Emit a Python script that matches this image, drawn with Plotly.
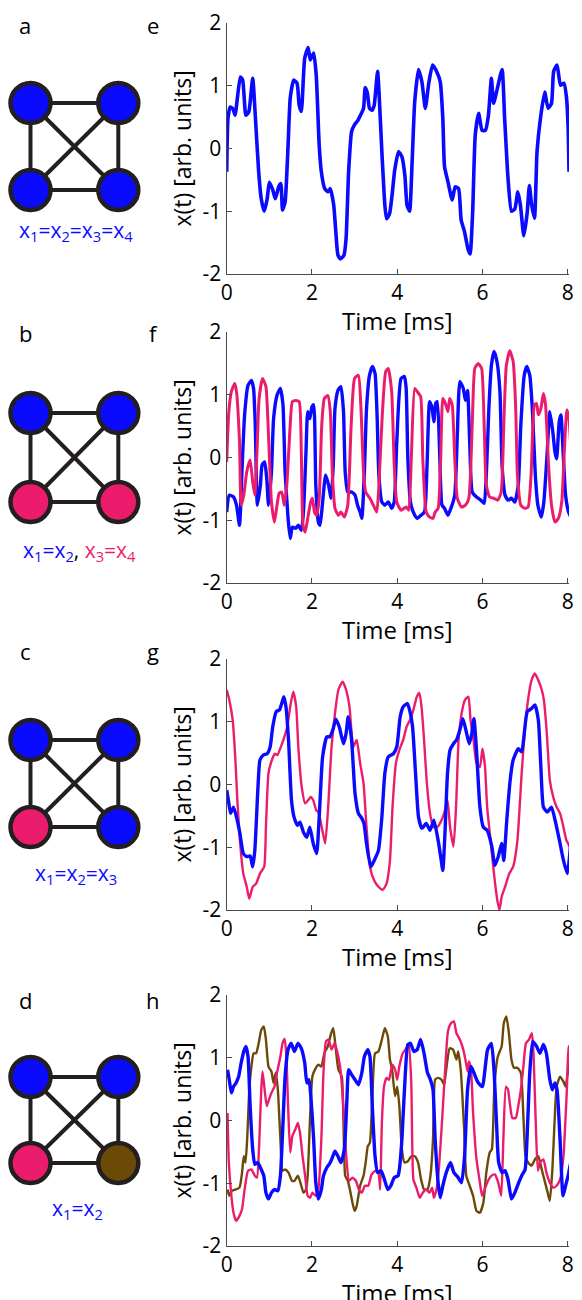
import plotly.graph_objects as go

# ---------------- data ----------------
# panel e : all four nodes synchronised (blue)
e_t = [0, 0.03, 0.08, 0.14, 0.20, 0.24, 0.32, 0.375, 0.45, 0.52, 0.61, 0.67, 0.75, 0.81, 0.88, 0.95, 1.0, 1.08, 1.14, 1.22,
       1.27, 1.31, 1.37, 1.44, 1.49, 1.57, 1.65, 1.70, 1.75, 1.83, 1.91, 1.96, 2.04, 2.10, 2.17, 2.22, 2.30, 2.38, 2.43, 2.51,
       2.56, 2.61, 2.67, 2.75, 2.80, 2.86, 2.93, 3.00, 3.08, 3.16, 3.21, 3.25, 3.30, 3.35, 3.41, 3.46, 3.54, 3.58, 3.64, 3.71,
       3.75, 3.82, 3.88, 3.94, 4.03, 4.11, 4.18, 4.23, 4.29, 4.35, 4.41, 4.50, 4.58, 4.66, 4.74, 4.83, 4.93, 5.01, 5.07, 5.11,
       5.19, 5.29, 5.36, 5.44, 5.50, 5.58, 5.66, 5.71, 5.77, 5.83, 5.91, 5.99, 6.07, 6.14, 6.21, 6.26, 6.34, 6.46, 6.52, 6.60,
       6.68, 6.76, 6.83, 6.89, 6.97, 7.05, 7.10, 7.15, 7.22, 7.28, 7.36, 7.46, 7.54, 7.62, 7.67, 7.75, 7.83, 7.91, 7.97, 8.01, 8.03]
e_blue = [-0.37, 0.48, 0.66, 0.64, 0.53, 0.74, 1.14, 1.09, 0.53, 0.59, 1.12, 0.53, -0.37, -0.80, -1.0, -0.80, -0.54, -0.66, -0.80, -0.61,
          -0.56, -0.98, -0.85, 0.05, 0.80, 1.09, 1.04, 0.69, 0.59, 1.44, 1.61, 1.41, 1.52, 1.17, 0.05, -0.37, -0.64, -0.69, -0.64, -0.90,
          -1.33, -1.70, -1.76, -1.70, -1.44, -0.37, 0.27, 0.38, 0.45, 0.56, 0.64, 0.97, 0.88, 0.64, 0.61, 0.69, 1.23, 0.80, -0.05, -0.90,
          -1.12, -1.04, -0.74, -0.35, -0.05, -0.13, -0.43, -0.90, -1.0, -0.21, 0.74, 1.26, 1.06, 0.64, 1.04, 1.33, 1.22, 1.06, 0.48, -0.29,
          -0.53, -0.82, -0.61, -0.64, -1.14, -1.33, -1.60, -1.68, -1.01, 0.21, 0.56, 0.29, 0.29, 0.53, 1.12, 0.72, 0.93, 1.26, 0.48, -0.48,
          -1.0, -0.96, -0.69, -0.90, -1.39, -1.02, -0.59, -0.88, -1.11, -0.05, 0.48, 0.90, 0.64, 0.72, 1.23, 1.33, 1.01, 1.04, 0.82, 0.32, -0.37]

# panel f : x1=x2 (blue), x3=x4 (pink)
f_t_blue = [0, 0.06, 0.16, 0.23, 0.30, 0.36, 0.42, 0.50, 0.58, 0.63, 0.67, 0.72, 0.79, 0.83, 0.89, 0.94, 0.98, 1.05, 1.10, 1.18,
            1.26, 1.32, 1.37, 1.44, 1.49, 1.54, 1.62, 1.68, 1.75, 1.80, 1.86, 1.90, 1.95, 2.0, 2.04, 2.09, 2.15, 2.19, 2.25, 2.32,
            2.39, 2.45, 2.50, 2.54, 2.61, 2.68, 2.74, 2.78, 2.84, 2.93, 3.01, 3.07, 3.13, 3.17, 3.23, 3.28, 3.35, 3.42, 3.48, 3.53,
            3.57, 3.64, 3.71, 3.79, 3.87, 3.93, 3.99, 4.09, 4.17, 4.21, 4.25, 4.31, 4.39, 4.47, 4.56, 4.64, 4.70, 4.76, 4.82, 4.86,
            4.90, 4.94, 5.0, 5.05, 5.11, 5.19, 5.27, 5.35, 5.41, 5.47, 5.55, 5.60, 5.65, 5.70, 5.76, 5.86, 5.96, 6.04, 6.09, 6.15,
            6.21, 6.27, 6.34, 6.41, 6.46, 6.53, 6.60, 6.68, 6.76, 6.84, 6.90, 6.98, 7.04, 7.11, 7.17, 7.24, 7.30, 7.38, 7.44, 7.51,
            7.58, 7.65, 7.70, 7.74, 7.80, 7.84, 7.90, 7.95, 8.02, 8.09, 8.15]
f_blue = [-0.87, -0.60, -0.63, -0.76, -1.08, -0.18, 0.68, 1.15, 1.23, 1.10, 0.52, -0.76, -0.44, -0.12, -0.07, -0.34, -0.76, -0.23, 0.62, 0.99,
          1.10, 0.84, -0.23, -0.97, -1.29, -1.11, -1.13, -1.08, -1.16, -0.87, 0.09, 0.73, 0.62, 0.81, 0.84, -0.44, -1.03, -1.08, -0.71, -0.28,
          -0.44, -0.65, -0.12, 0.78, 1.07, 1.13, 0.73, -0.23, -0.55, -0.55, -0.60, -0.76, -0.87, -0.97, -0.23, 0.78, 1.31, 1.45, 1.34, 0.62,
          -0.28, -0.71, -0.76, -0.71, -0.81, -0.71, 0.25, 1.26, 1.29, 1.10, -0.02, -0.71, -0.89, -0.97, -0.92, -0.87, -0.12, 0.89, 0.78, 0.57,
          0.86, 0.89, -0.02, -0.76, -0.81, -0.92, -0.79, -0.60, 0.36, 1.21, 1.10, 0.91, 1.07, 0.25, -0.55, -0.63, -0.68, -0.73, -0.28, 0.78,
          1.47, 1.69, 1.53, 1.05, -0.12, -0.60, -0.68, -0.65, -0.71, -0.44, 0.52, 1.31, 1.45, 1.31, 0.78, -0.28, -0.76, -0.95, -0.71, -0.02,
          0.73, 0.41, 0.09, -0.02, 0.57, 0.68, -0.02, -0.60, -0.87, -0.97, -1.03]
f_t_pink = [0, 0.05, 0.11, 0.19, 0.23, 0.30, 0.34, 0.40, 0.47, 0.55, 0.61, 0.66, 0.71, 0.76, 0.84, 0.92, 0.98, 1.05, 1.12, 1.18,
            1.23, 1.29, 1.35, 1.41, 1.49, 1.54, 1.62, 1.70, 1.75, 1.79, 1.84, 1.90, 1.97, 2.01, 2.06, 2.11, 2.17, 2.23, 2.29, 2.37,
            2.43, 2.48, 2.54, 2.62, 2.68, 2.76, 2.84, 2.92, 3.0, 3.09, 3.15, 3.21, 3.26, 3.36, 3.44, 3.52, 3.57, 3.65, 3.73, 3.79,
            3.87, 3.93, 3.99, 4.09, 4.21, 4.27, 4.33, 4.41, 4.47, 4.55, 4.60, 4.68, 4.76, 4.84, 4.89, 4.96, 5.02, 5.07, 5.13, 5.19,
            5.23, 5.29, 5.35, 5.41, 5.51, 5.60, 5.68, 5.76, 5.82, 5.90, 5.98, 6.04, 6.09, 6.17, 6.27, 6.36, 6.44, 6.50, 6.56, 6.64,
            6.72, 6.78, 6.82, 6.90, 6.99, 7.07, 7.14, 7.22, 7.27, 7.31, 7.37, 7.43, 7.48, 7.55, 7.62, 7.70, 7.78, 7.86, 7.92, 7.98,
            8.03, 8.09, 8.13]
f_pink = [-0.07, 0.73, 1.05, 1.18, 1.05, 0.25, -0.76, -0.60, -0.23, -0.04, -0.39, -0.60, 0.09, 0.94, 1.26, 1.13, 0.36, -0.71, -1.03, -0.76,
          -0.57, -0.55, -0.76, -0.44, 0.52, 0.89, 0.91, 0.89, 0.09, -1.08, -1.19, -0.97, -0.71, -0.65, -0.87, -0.92, -0.65, 0.52, 0.94, 0.99,
          0.73, -0.28, -0.81, -0.92, -0.87, -0.95, -0.76, 0.52, 1.26, 1.31, 0.78, -0.23, -0.55, -0.65, -0.76, -0.87, -0.44, 0.68, 1.37, 1.42,
          1.05, -0.12, -0.71, -0.84, -0.79, -0.84, -0.02, 1.10, 1.05, 0.97, -0.02, -0.87, -0.95, -0.97, -0.87, -0.81, -0.02, 0.94, 0.86, 0.73,
          0.94, 0.84, -0.02, -0.65, -0.79, -0.76, -0.65, 0.52, 1.42, 1.50, 1.42, 0.52, -0.44, -0.63, -0.65, -0.68, -0.55, 0.52, 1.47, 1.70,
          1.53, 0.78, -0.28, -0.76, -0.81, -0.79, -0.28, 0.84, 0.86, 0.68, 0.78, 1.02, 0.84, -0.12, -0.76, -1.03, -0.97, -0.71, 0.09, 0.76,
          0.62, -0.02, -0.15]

# panel g : x1=x2=x3 (blue), x4 (pink)
g_t_blue = [0, 0.04, 0.09, 0.16, 0.23, 0.31, 0.39, 0.47, 0.55, 0.61, 0.66, 0.73, 0.78, 0.86, 0.95, 1.02, 1.08, 1.16, 1.24, 1.29,
            1.34, 1.39, 1.45, 1.52, 1.58, 1.66, 1.72, 1.80, 1.88, 1.95, 2.03, 2.11, 2.17, 2.25, 2.35, 2.42, 2.49, 2.56, 2.64, 2.74,
            2.80, 2.85, 2.93, 3.01, 3.09, 3.17, 3.22, 3.28, 3.38, 3.46, 3.56, 3.64, 3.71, 3.79, 3.91, 3.99, 4.07, 4.14, 4.24, 4.30,
            4.36, 4.43, 4.50, 4.58, 4.68, 4.77, 4.86, 4.96, 5.02, 5.07, 5.12, 5.18, 5.24, 5.32, 5.39, 5.47, 5.54, 5.61, 5.69, 5.75,
            5.80, 5.86, 5.94, 6.02, 6.11, 6.22, 6.29, 6.37, 6.45, 6.50, 6.57, 6.65, 6.72, 6.84, 6.92, 6.98, 7.05, 7.15, 7.23, 7.31,
            7.37, 7.43, 7.52, 7.62, 7.72, 7.82, 7.90, 7.99, 8.05, 8.12]
g_blue = [-0.09, -0.25, -0.46, -0.36, -0.52, -0.78, -1.10, -1.15, -1.14, -1.31, -1.05, -0.09, 0.39, 0.47, 0.49, 0.60, 0.92, 1.16, 1.19, 1.29,
          1.40, 1.24, 0.71, -0.25, -0.52, -0.65, -0.60, -0.76, -0.84, -0.68, -0.94, -1.10, -0.52, 0.44, 0.76, 0.76, 0.87, 1.04, 0.92, 0.65,
          0.81, 1.08, 0.71, -0.14, -0.46, -0.54, -0.62, -0.94, -1.31, -1.21, -1.05, -0.52, 0.18, 0.44, 0.49, 0.60, 1.08, 1.24, 1.29, 1.16,
          0.92, 0.18, -0.52, -0.70, -0.62, -0.73, -0.57, -0.89, -1.15, -1.37, -0.78, 0.18, 0.55, 0.65, 0.71, 0.87, 1.05, 0.87, 0.65, 0.81,
          1.05, 0.55, -0.36, -0.68, -0.73, -0.99, -1.29, -1.15, -0.94, -1.21, -0.57, 0.07, 0.39, 0.57, 0.52, 0.81, 1.16, 1.21, 1.27, 1.03,
          0.28, -0.36, -0.44, -0.36, -0.62, -0.94, -1.21, -1.42, -1.10, -0.30]
g_t_pink = [0, 0.06, 0.14, 0.20, 0.25, 0.31, 0.39, 0.47, 0.53, 0.61, 0.69, 0.78, 0.88, 0.92, 0.98, 1.06, 1.13, 1.19, 1.27, 1.34,
            1.42, 1.49, 1.56, 1.63, 1.68, 1.76, 1.84, 1.91, 1.97, 2.03, 2.10, 2.15, 2.23, 2.31, 2.38, 2.46, 2.54, 2.62, 2.72, 2.80,
            2.88, 2.97, 3.05, 3.13, 3.21, 3.28, 3.36, 3.46, 3.56, 3.66, 3.75, 3.83, 3.89, 3.97, 4.05, 4.14, 4.22, 4.30, 4.38, 4.46,
            4.52, 4.57, 4.63, 4.69, 4.77, 4.85, 4.94, 5.04, 5.12, 5.18, 5.24, 5.32, 5.38, 5.44, 5.51, 5.59, 5.67, 5.72, 5.79, 5.86,
            5.94, 6.00, 6.06, 6.11, 6.19, 6.27, 6.35, 6.40, 6.45, 6.53, 6.63, 6.72, 6.82, 6.92, 7.00, 7.08, 7.15, 7.23, 7.31, 7.39,
            7.44, 7.51, 7.58, 7.66, 7.74, 7.82, 7.90, 7.97, 8.05]
g_pink = [1.51, 1.35, 1.03, 0.44, -0.25, -0.89, -1.42, -1.63, -1.82, -1.63, -1.58, -1.42, -1.31, -0.68, 0.18, 0.39, 0.49, 0.47, 0.60, 0.73,
          0.92, 1.24, 1.48, 1.24, 0.60, -0.04, -0.30, -0.25, -0.20, -0.25, -0.41, -0.44, -0.68, -0.94, -0.36, 0.60, 1.13, 1.51, 1.64, 1.51,
          1.24, 0.60, 0.71, 0.34, 0.02, -0.68, -1.31, -1.53, -1.63, -1.68, -1.58, -1.21, -0.36, 0.34, 0.55, 0.71, 0.92, 1.03, 1.19, 1.40,
          1.46, 1.24, 0.71, 0.07, -0.46, -0.68, -0.68, -0.57, -0.41, -0.25, -0.68, -0.99, -0.36, 0.71, 1.13, 1.35, 1.40, 1.03, 0.71, 0.34,
          0.28, 0.57, 0.28, -0.36, -0.89, -1.42, -1.85, -2.0, -1.79, -1.63, -1.42, -1.31, -0.89, 0.18, 0.92, 1.40, 1.66, 1.77, 1.66, 1.51,
          1.35, 0.81, 0.07, -0.20, -0.36, -0.46, -0.68, -0.89, -0.99]

# panel h : x1=x2 (blue), x3 (pink), x4 (brown)
h_t_blue = [0.02, 0.06, 0.11, 0.16, 0.22, 0.28, 0.34, 0.40, 0.45, 0.50, 0.55, 0.61, 0.66, 0.73, 0.81, 0.87, 0.92, 0.98, 1.05, 1.12,
            1.20, 1.26, 1.31, 1.37, 1.44, 1.51, 1.59, 1.67, 1.75, 1.83, 1.88, 1.93, 1.98, 2.04, 2.09, 2.15, 2.22, 2.27, 2.35, 2.43,
            2.49, 2.54, 2.61, 2.68, 2.76, 2.82, 2.86, 2.93, 3.01, 3.09, 3.17, 3.23, 3.31, 3.36, 3.42, 3.48, 3.54, 3.62, 3.70, 3.78,
            3.85, 3.93, 4.02, 4.05, 4.11, 4.17, 4.25, 4.31, 4.39, 4.47, 4.55, 4.63, 4.71, 4.78, 4.84, 4.89, 4.96, 5.01, 5.07, 5.15,
            5.25, 5.33, 5.43, 5.51, 5.58, 5.65, 5.73, 5.80, 5.90, 6.0, 6.05, 6.12, 6.21, 6.27, 6.33, 6.38, 6.46, 6.53, 6.60, 6.68,
            6.76, 6.85, 6.92, 7.00, 7.06, 7.11, 7.18, 7.27, 7.35, 7.43, 7.50, 7.58, 7.64, 7.70, 7.75, 7.82, 7.89, 7.95, 8.01, 8.09, 8.15]
h_blue = [0.81, 0.65, 0.44, 0.54, 0.60, 0.70, 0.92, 1.10, 1.18, 1.02, 0.23, -0.46, -0.70, -0.67, -0.78, -0.88, -1.15, -1.25, -1.15, -1.10,
          -1.12, -0.88, -0.20, 0.70, 1.13, 1.23, 1.10, 1.23, 1.15, 0.92, 0.60, 0.65, 0.33, -0.30, -0.99, -1.25, -1.10, -0.88, -0.75, -0.67,
          -0.57, -0.49, -0.57, -0.67, -0.46, 0.33, 0.81, 0.73, 0.65, 0.57, 0.76, 1.02, 1.13, 1.02, 0.17, -0.57, -0.83, -0.80, -0.94, -1.10,
          -1.04, -0.91, -0.88, -0.78, -0.30, 0.49, 1.21, 1.23, 1.10, 1.13, 1.29, 1.07, 0.76, 0.65, 0.49, -0.30, -0.99, -1.23, -1.04, -0.83,
          -0.67, -0.83, -0.91, -0.99, -0.57, 0.49, 0.86, 0.76, 0.60, 0.54, 0.76, 1.13, 1.23, 0.81, -0.04, -0.67, -0.83, -0.80, -0.94, -1.25,
          -1.15, -0.99, -0.88, -0.78, -0.04, 0.76, 1.26, 1.18, 1.07, 1.21, 1.07, 0.65, 0.49, 0.60, 0.49, -0.30, -1.20, -1.04, -0.88, -0.62, -0.67]
h_t_pink = [0.02, 0.05, 0.11, 0.16, 0.22, 0.30, 0.36, 0.42, 0.50, 0.58, 0.66, 0.71, 0.76, 0.81, 0.84, 0.89, 0.94, 0.99, 1.05, 1.12,
            1.18, 1.26, 1.31, 1.36, 1.40, 1.44, 1.49, 1.54, 1.61, 1.67, 1.72, 1.78, 1.84, 1.90, 1.96, 2.01, 2.09, 2.15, 2.22, 2.27,
            2.33, 2.39, 2.46, 2.53, 2.58, 2.66, 2.71, 2.76, 2.81, 2.87, 2.95, 3.03, 3.10, 3.17, 3.24, 3.32, 3.40, 3.49, 3.56, 3.60,
            3.64, 3.69, 3.75, 3.81, 3.88, 3.95, 4.0, 4.05, 4.13, 4.21, 4.27, 4.33, 4.38, 4.45, 4.53, 4.60, 4.68, 4.76, 4.82, 4.86,
            4.92, 4.97, 5.04, 5.11, 5.19, 5.26, 5.33, 5.39, 5.47, 5.55, 5.60, 5.65, 5.68, 5.73, 5.78, 5.86, 5.94, 5.99, 6.05, 6.13,
            6.21, 6.29, 6.37, 6.44, 6.49, 6.55, 6.60, 6.64, 6.70, 6.78, 6.84, 6.90, 6.96, 7.02, 7.09, 7.16, 7.20, 7.25, 7.30, 7.35,
            7.43, 7.50, 7.58, 7.66, 7.74, 7.82, 7.90, 7.98, 8.03, 8.09, 8.15]
h_pink = [0.12, -0.67, -1.20, -1.47, -1.60, -1.52, -1.41, -1.10, -0.80, -0.78, -0.88, -0.91, -0.41, 0.49, 0.78, 0.49, 0.23, 0.33, 0.44, 0.54,
          0.76, 1.02, 1.23, 1.30, 1.02, 0.23, -0.51, -0.25, -0.14, -0.04, -0.20, -0.57, -0.88, -1.20, -1.23, -1.15, -1.20, -1.10, -0.30, 0.76,
          1.26, 1.29, 1.13, 1.23, 1.13, 0.86, 0.49, -0.04, -0.62, -0.96, -0.91, -0.96, -1.10, -1.15, -1.04, -1.04, -0.86, -0.80, -0.83, -1.10,
          -0.04, 0.54, 0.68, 0.65, 0.89, 0.81, 0.65, 0.86, 1.07, 1.15, 1.21, 0.60, -0.94, -1.07, -1.23, -1.15, -1.10, -1.15, -1.07, -1.23,
          -1.10, -0.83, -0.14, 0.65, 1.42, 1.55, 1.58, 1.39, 1.29, 1.13, 0.97, 0.78, 0.94, 0.81, 0.12, -0.62, -0.99, -1.20, -1.10, -0.96,
          -0.88, -0.86, -0.99, -1.20, -0.30, 0.54, 0.49, 0.28, 0.04, 0.04, 0.23, 0.49, 0.86, 1.23, 1.29, 1.39, 1.02, -0.04, -0.80, -0.67,
          -0.62, -0.83, -0.99, -1.07, -1.04, -0.94, -0.57, 0.49, 1.18, 1.21, 1.18]
h_t_brown = [0.02, 0.06, 0.12, 0.20, 0.30, 0.36, 0.40, 0.44, 0.48, 0.53, 0.58, 0.63, 0.69, 0.75, 0.81, 0.87, 0.92, 0.98, 1.05, 1.10,
             1.15, 1.20, 1.26, 1.31, 1.37, 1.45, 1.53, 1.59, 1.67, 1.75, 1.80, 1.86, 1.90, 1.96, 2.01, 2.07, 2.15, 2.22, 2.29, 2.37,
             2.45, 2.50, 2.56, 2.62, 2.70, 2.74, 2.78, 2.84, 2.89, 2.95, 3.00, 3.05, 3.13, 3.21, 3.26, 3.31, 3.36, 3.42, 3.48, 3.56,
             3.64, 3.71, 3.78, 3.83, 3.88, 3.95, 4.0, 4.05, 4.11, 4.17, 4.25, 4.33, 4.41, 4.49, 4.56, 4.63, 4.71, 4.78, 4.84, 4.89,
             4.96, 5.04, 5.10, 5.15, 5.23, 5.31, 5.39, 5.43, 5.49, 5.57, 5.62, 5.70, 5.78, 5.86, 5.94, 6.02, 6.09, 6.17, 6.22, 6.28,
             6.36, 6.45, 6.50, 6.56, 6.62, 6.68, 6.74, 6.82, 6.90, 6.96, 7.01, 7.07, 7.15, 7.23, 7.31, 7.39, 7.47, 7.53, 7.58, 7.64,
             7.69, 7.74, 7.82, 7.90, 7.95, 8.01, 8.09]
h_brown = [-1.10, -1.20, -1.12, -1.10, -1.07, -0.83, -0.57, -0.67, -0.30, 0.49, 0.86, 1.07, 1.07, 1.23, 1.44, 1.50, 1.29, 0.86, 0.78, 0.60,
           0.76, 0.49, -0.30, -0.80, -0.78, -0.83, -0.96, -0.96, -0.88, -1.04, -1.15, -1.10, -0.88, 0.12, 0.70, 0.81, 0.89, 0.86, 1.07, 1.18,
           1.39, 1.47, 1.13, 0.81, 0.70, -0.04, -0.88, -0.96, -1.10, -1.31, -1.44, -1.36, -1.04, -0.88, -0.67, -0.41, -0.35, 0.44, 1.07, 1.10,
           1.29, 1.47, 1.34, 0.97, 0.81, 0.39, 0.54, 0.23, -0.46, -0.67, -0.65, -0.57, -0.57, -0.67, -0.94, -1.10, -1.10, -0.88, -0.30, 0.65,
           0.68, 0.65, 0.57, 0.81, 1.15, 1.13, 0.97, 1.10, 0.81, -0.14, -0.88, -1.04, -1.20, -1.44, -1.47, -1.31, -0.83, -0.51, -0.46, 0.54,
           1.02, 1.18, 1.55, 1.66, 1.39, 0.97, 0.84, 0.84, 0.76, 0.07, -0.57, -0.67, -0.72, -0.62, -0.57, -0.78, -0.99, -1.15, -1.28, -0.78,
           -0.04, 0.54, 0.70, 0.62, 0.54, 0.81, 1.05]

x_ticks = [0, 2, 4, 6, 8]
x_tick_labels = ["0", "2", "4", "6", "8"]
y_ticks = [-2, -1, 0, 1, 2]
y_tick_labels = ["-2", "-1", "0", "1", "2"]

# network diagrams: 4 nodes on a square, complete graph
node_x = [0, 1, 0, 1]
node_y = [1, 1, 0, 0]
edges = [(0, 1), (2, 3), (0, 2), (1, 3), (0, 3), (1, 2)]

BLUE = "#0a0aff"
PINK = "#ec1c6c"
BROWN = "#6b4a08"
DARK = "#231f20"

node_colors = [
    [BLUE, BLUE, BLUE, BLUE],
    [BLUE, BLUE, PINK, PINK],
    [BLUE, BLUE, PINK, BLUE],
    [BLUE, BLUE, PINK, BROWN],
]
net_labels = [
    f"<span style='color:{BLUE}'>x<sub>1</sub>=x<sub>2</sub>=x<sub>3</sub>=x<sub>4</sub></span>",
    f"<span style='color:{BLUE}'>x<sub>1</sub>=x<sub>2</sub></span>, <span style='color:{PINK}'>x<sub>3</sub>=x<sub>4</sub></span>",
    f"<span style='color:{BLUE}'>x<sub>1</sub>=x<sub>2</sub>=x<sub>3</sub></span>",
    f"<span style='color:{BLUE}'>x<sub>1</sub>=x<sub>2</sub></span>",
]
left_letters = ["a", "b", "c", "d"]
right_letters = ["e", "f", "g", "h"]

# ---------------- layout geometry (pixels) ----------------
W, H = 582, 1300
def xd(px):
    return px / W
def yd(py):
    return 1 - py / H

plot_tops = [23, 332, 659, 995]
plot_h = 251
plot_left, plot_right = 226.7, 569.0
x_range = [0, 8.03]

net_top_rows = [103, 413, 740, 1077]
net_bot_rows = [190, 502, 827, 1163]
net_left_col, net_right_col = 30.5, 118.3
net_label_y = [231, 551, 874, 1209]
net_label_x = [76, 79, 76, 77]
letter_y = [25, 333, 651, 1000]

FONT = "Open Sans"

fig = go.Figure()

series = [
    [(e_t, e_blue, BLUE, 3.6)],
    [(f_t_blue, f_blue, BLUE, 3.4), (f_t_pink, f_pink, PINK, 3.0)],
    [(g_t_pink, g_pink, PINK, 2.4), (g_t_blue, g_blue, BLUE, 3.4)],
    [(h_t_brown, h_brown, BROWN, 2.4), (h_t_pink, h_pink, PINK, 2.4), (h_t_blue, h_blue, BLUE, 3.4)],
]

annotations = []
for i in range(4):
    xa = "x" if i == 0 else f"x{i+1}"
    ya = "y" if i == 0 else f"y{i+1}"
    for (t, v, c, w) in series[i]:
        fig.add_trace(go.Scatter(x=t, y=v, mode="lines",
                                 line=dict(color=c, width=w, shape="spline", smoothing=0.5),
                                 xaxis=xa, yaxis=ya, showlegend=False, hoverinfo="skip"))
    top = plot_tops[i]
    bot = top + plot_h
    axis_common = dict(showline=True, linecolor="#4a4a4a", linewidth=1.3, ticks="inside", ticklen=5,
                       tickcolor="#4a4a4a", tickwidth=1.2, showgrid=False, zeroline=False, automargin=False,
                       tickfont=dict(family=FONT, size=21, color="black"))
    fig.layout[f"xaxis{'' if i == 0 else i+1}"] = dict(
        domain=[xd(plot_left), xd(plot_right)], range=x_range, anchor=ya,
        tickvals=x_ticks, ticktext=x_tick_labels, **axis_common)
    fig.layout[f"yaxis{'' if i == 0 else i+1}"] = dict(
        domain=[yd(bot), yd(top)], range=[-2, 2], anchor=xa,
        tickvals=y_ticks, ticktext=y_tick_labels, **axis_common)
    # axis titles
    annotations.append(dict(text="x(t) [arb. units]", textangle=-90, x=xd(181), y=yd((top + bot) / 2),
                            xref="paper", yref="paper", xanchor="center", yanchor="middle", showarrow=False,
                            font=dict(family=FONT, size=23, color="black")))
    annotations.append(dict(text="Time [ms]", x=xd(397), y=yd(bot + 46.5),
                            xref="paper", yref="paper", xanchor="center", yanchor="middle", showarrow=False,
                            font=dict(family=FONT, size=24, color="black")))
    # panel letters
    annotations.append(dict(text=left_letters[i], x=xd(25), y=yd(letter_y[i]), xref="paper", yref="paper",
                            xanchor="center", yanchor="middle", showarrow=False,
                            font=dict(family=FONT, size=22, color="black")))
    annotations.append(dict(text=right_letters[i], x=xd(153), y=yd(letter_y[i]), xref="paper", yref="paper",
                            xanchor="center", yanchor="middle", showarrow=False,
                            font=dict(family=FONT, size=22, color="black")))
    # network label
    annotations.append(dict(text=net_labels[i], x=xd(net_label_x[i]), y=yd(net_label_y[i]), xref="paper", yref="paper",
                            xanchor="center", yanchor="middle", showarrow=False,
                            font=dict(family=FONT, size=21, color="black")))

    # network diagram axes
    k = i + 5
    nxa, nya = f"x{k}", f"y{k}"
    pad = 0.3
    ux = net_right_col - net_left_col
    uy = net_bot_rows[i] - net_top_rows[i]
    fig.layout[f"xaxis{k}"] = dict(domain=[xd(net_left_col - pad * ux), xd(net_right_col + pad * ux)],
                                   range=[-pad, 1 + pad], visible=False, anchor=nya, fixedrange=True, automargin=False)
    fig.layout[f"yaxis{k}"] = dict(domain=[yd(net_bot_rows[i] + pad * uy), yd(net_top_rows[i] - pad * uy)],
                                   range=[-pad, 1 + pad], visible=False, anchor=nxa, fixedrange=True, automargin=False)
    for (a, b) in edges:
        fig.add_trace(go.Scatter(x=[node_x[a], node_x[b]], y=[node_y[a], node_y[b]], mode="lines",
                                 line=dict(color=DARK, width=4), xaxis=nxa, yaxis=nya,
                                 showlegend=False, hoverinfo="skip"))
    fig.add_trace(go.Scatter(x=node_x, y=node_y, mode="markers",
                             marker=dict(size=40, color=node_colors[i], line=dict(color=DARK, width=4.5)),
                             xaxis=nxa, yaxis=nya, showlegend=False, hoverinfo="skip", cliponaxis=False))

fig.update_layout(template="none", width=W, height=H,
                  margin=dict(l=0, r=0, t=0, b=0, pad=0, autoexpand=False),
                  paper_bgcolor="white", plot_bgcolor="white", annotations=annotations,
                  font=dict(family=FONT), showlegend=False)

fig.write_html("out.html", config={"displayModeBar": False},
               post_script="document.body.style.margin='0px';document.body.style.overflow='hidden';")
